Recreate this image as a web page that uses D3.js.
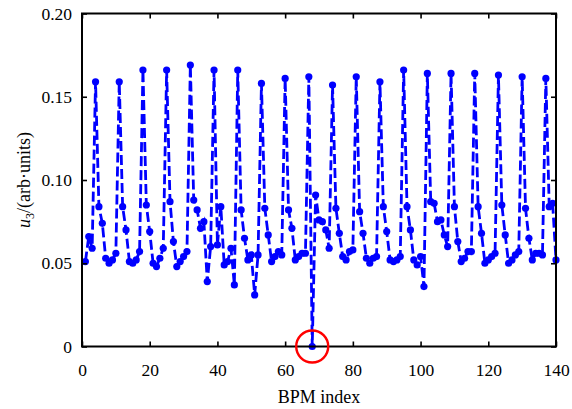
<!DOCTYPE html>
<html>
<head>
<meta charset="utf-8">
<script src="https://cdn.jsdelivr.net/npm/d3@7/dist/d3.min.js"></script>
<style>
html,body{margin:0;padding:0;background:#fff;}
svg{display:block;}
svg text{font-family:"Liberation Serif","Times New Roman","DejaVu Serif",serif !important;fill:#000;}
</style>
</head>
<body>
<svg id="chart" width="572" height="409"></svg>
<script>
// BPM index 1..140
const bpmIndex = d3.range(1, 141);
const u3 = [
0.051,0.066,0.059,0.159,0.084,0.074,0.053,0.050,0.052,0.056,
0.159,0.084,0.070,0.051,0.050,0.052,0.057,0.166,0.085,0.069,
0.050,0.048,0.053,0.059,0.166,0.087,0.063,0.048,0.051,0.054,
0.057,0.169,0.088,0.082,0.071,0.075,0.039,0.060,0.166,0.061,
0.084,0.049,0.051,0.059,0.037,0.166,0.082,0.065,0.052,0.055,
0.031,0.055,0.158,0.083,0.067,0.051,0.054,0.057,0.055,0.161,
0.082,0.071,0.052,0.054,0.056,0.056,0.162,0.000,0.091,0.076,
0.075,0.070,0.059,0.157,0.083,0.068,0.054,0.052,0.057,0.058,
0.162,0.081,0.068,0.053,0.050,0.053,0.054,0.159,0.084,0.069,
0.052,0.051,0.052,0.054,0.166,0.084,0.070,0.052,0.049,0.054,
0.036,0.164,0.087,0.086,0.075,0.076,0.067,0.060,0.164,0.084,
0.063,0.051,0.053,0.057,0.057,0.164,0.084,0.068,0.050,0.052,
0.054,0.056,0.163,0.085,0.067,0.050,0.052,0.055,0.057,0.162,
0.083,0.065,0.052,0.056,0.056,0.055,0.161,0.084,0.086,0.052
];
const xTicks = [0,20,40,60,80,100,120,140];
const yTicks = [0,0.05,0.10,0.15,0.20];
const yTickLabels = ["0","0.05","0.10","0.15","0.20"];
const highlightIndex = 68;

(function(){
const data = bpmIndex.map((b,i)=>({x:b,y:u3[i]}));
const FONT = "Liberation Serif, Times New Roman, DejaVu Serif, serif";

const svg = d3.select("#chart");
const L = 82, R = 556, T = 13.5, B = 346.5;
const x = d3.scaleLinear().domain([0,140]).range([L,R]);
const y = d3.scaleLinear().domain([0,0.20]).range([B,T]);

// data line
const line = d3.line().x(d=>x(d.x)).y(d=>y(d.y));
svg.append("path").datum(data)
  .attr("d", line)
  .attr("fill","none")
  .attr("stroke","#0000ff")
  .attr("stroke-width",2.8)
  .attr("stroke-dasharray","10,4");

svg.append("g").selectAll("circle").data(data).enter().append("circle")
  .attr("cx",d=>x(d.x)).attr("cy",d=>y(d.y)).attr("r",3.6)
  .attr("fill","#0000ff");

// axes (inward ticks)
const fs = "17.5px";
const gBottom = svg.append("g").attr("transform",`translate(0,${B})`)
  .call(d3.axisBottom(x).tickValues(xTicks).tickSizeInner(-5).tickSizeOuter(0).tickPadding(17));
const gTop = svg.append("g").attr("transform",`translate(0,${T})`)
  .call(d3.axisTop(x).tickValues(xTicks).tickSizeInner(-5).tickSizeOuter(0).tickFormat(""));
const gLeft = svg.append("g").attr("transform",`translate(${L},0)`)
  .call(d3.axisLeft(y).tickValues(yTicks).tickSizeInner(-5).tickSizeOuter(0).tickPadding(10)
    .tickFormat((d,i)=>yTickLabels[i]));
const gRight = svg.append("g").attr("transform",`translate(${R},0)`)
  .call(d3.axisRight(y).tickValues(yTicks).tickSizeInner(-5).tickSizeOuter(0).tickFormat(""));

[gBottom,gTop,gLeft,gRight].forEach(g=>{
  g.attr("font-family",FONT);
  g.select(".domain").remove();
  g.selectAll(".tick line").attr("stroke","#000").attr("stroke-width",1.6);
  g.selectAll(".tick text").attr("font-size",fs).attr("font-family",FONT);
});

// frame
svg.append("rect").attr("x",L).attr("y",T).attr("width",R-L).attr("height",B-T)
  .attr("fill","none").attr("stroke","#000").attr("stroke-width",2);

// highlight red circle
svg.append("circle").attr("cx",x(highlightIndex)).attr("cy",y(u3[highlightIndex-1]))
  .attr("r",16).attr("fill","none").attr("stroke","#ff0000").attr("stroke-width",2.4);

// axis labels
svg.append("text").attr("x",(L+R)/2).attr("y",403).attr("text-anchor","middle")
  .attr("font-family",FONT).attr("font-size","18px").text("BPM index");

const yl = svg.append("text").attr("transform",`translate(30,${(T+B)/2}) rotate(-90)`)
  .attr("text-anchor","middle").attr("font-family",FONT).attr("font-size","18px");
yl.append("tspan").attr("font-style","italic").text("u");
yl.append("tspan").attr("font-size","12px").attr("dy","4").text("3");
yl.append("tspan").attr("dy","-4").text("/(arb·units)");
})();
</script>
</body>
</html>
